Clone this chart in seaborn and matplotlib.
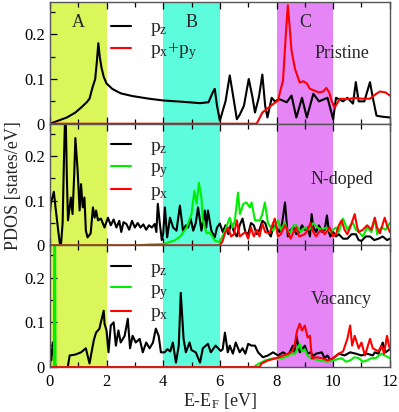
import matplotlib
matplotlib.use("Agg")
import matplotlib.pyplot as plt
from matplotlib.ticker import MultipleLocator
import seaborn as sns
import pandas as pd

# ---- data (E-E_F in eV, PDOS in states/eV) ----
pristine_pz = [(0, 0), (0.3, 0.007), (0.6, 0.014), (0.9, 0.025), (1.1, 0.036), (1.3, 0.048),
               (1.4, 0.056), (1.5, 0.08), (1.6, 0.1), (1.66, 0.14), (1.71, 0.18), (1.76, 0.15),
               (1.82, 0.126), (1.9, 0.105), (2.0, 0.09), (2.2, 0.078), (2.5, 0.068), (2.9, 0.062),
               (3.5, 0.056), (4.0, 0.052), (4.7, 0.049), (5.3, 0.046), (5.6, 0.048), (5.75, 0.07),
               (5.82, 0.078), (5.9, 0.04), (6.0, 0.007), (6.2, 0.05), (6.35, 0.108), (6.5, 0.05),
               (6.6, 0.01), (6.7, 0.02), (6.85, 0.04), (7.02, 0.1), (7.15, 0.06), (7.24, 0.025),
               (7.38, 0.06), (7.5, 0.11), (7.6, 0.04), (7.68, 0.014), (7.83, 0.058), (7.94, 0.05),
               (8.1, 0.055), (8.36, 0.048), (8.53, 0.063), (8.7, 0.014), (8.9, 0.058), (9.07, 0.014),
               (9.3, 0.067), (9.5, 0.05), (9.8, 0.058), (10.0, 0.01), (10.1, 0.058), (10.35, 0.05),
               (10.5, 0.058), (10.7, 0.045), (10.8, 0.093), (10.9, 0.05), (11.1, 0.05), (11.3, 0.093),
               (11.4, 0.058), (11.53, 0.018), (11.7, 0.016), (12.0, 0.014)]
pristine_pxpy = [(0, 0), (7.3, 0), (7.5, 0.025), (7.8, 0.04), (8.05, 0.052), (8.23, 0.097),
                 (8.33, 0.2), (8.4, 0.265), (8.46, 0.22), (8.53, 0.164), (8.65, 0.123), (8.82, 0.092),
                 (8.95, 0.095), (9.07, 0.09), (9.18, 0.078), (9.5, 0.07), (9.65, 0.072), (9.76, 0.08),
                 (9.86, 0.07), (9.94, 0.052), (10.05, 0.036), (10.24, 0.056), (10.5, 0.055),
                 (10.8, 0.058), (11.0, 0.056), (11.3, 0.056), (11.5, 0.066), (11.65, 0.072),
                 (11.85, 0.07), (12.0, 0.063)]

ndoped_pz = [(0, 0.07), (0.03, 0.093), (0.14, 0.12), (0.2, 0.085), (0.3, 0.03), (0.35, 0.005),
             (0.39, 0), (0.45, 0.05), (0.5, 0.2), (0.55, 0.32), (0.6, 0.15), (0.64, 0.056),
             (0.74, 0.107), (0.8, 0.07), (0.86, 0.16), (0.9, 0.24), (0.98, 0.167), (1.05, 0.078),
             (1.1, 0.137), (1.16, 0.085), (1.22, 0.107), (1.27, 0.033), (1.33, 0.018), (1.44, 0.027),
             (1.52, 0.085), (1.58, 0.062), (1.63, 0.078), (1.7, 0.056), (1.8, 0.06), (1.93, 0.04),
             (2.05, 0.062), (2.15, 0.045), (2.25, 0.058), (2.35, 0.04), (2.45, 0.055), (2.52, 0.03),
             (2.6, 0.052), (2.7, 0.048), (2.8, 0.035), (2.9, 0.055), (3.0, 0.04), (3.1, 0.05),
             (3.2, 0.04), (3.3, 0.047), (3.4, 0.035), (3.5, 0.045), (3.6, 0.04), (3.7, 0.048),
             (3.76, 0.03), (3.81, 0.093), (3.88, 0.05), (3.95, 0.012), (4.0, 0.027), (4.06, 0.085),
             (4.14, 0.018), (4.24, 0.062), (4.35, 0.04), (4.47, 0.033), (4.59, 0.089), (4.7, 0.033),
             (4.8, 0.045), (4.88, 0.04), (4.97, 0.06), (5.06, 0.033), (5.15, 0.05), (5.23, 0.085),
             (5.35, 0.033), (5.47, 0.078), (5.52, 0.04), (5.58, 0.078), (5.7, 0.033), (5.82, 0.018),
             (5.9, 0.04), (6.0, 0.049), (6.1, 0.03), (6.2, 0.045), (6.3, 0.025), (6.4, 0.05),
             (6.5, 0.03), (6.6, 0.02), (6.7, 0.045), (6.8, 0.06), (6.9, 0.03), (7.0, 0.025),
             (7.1, 0.05), (7.2, 0.045), (7.3, 0.025), (7.4, 0.035), (7.5, 0.055), (7.6, 0.05),
             (7.7, 0.03), (7.8, 0.02), (7.9, 0.045), (8.0, 0.04), (8.1, 0.03), (8.2, 0.05),
             (8.3, 0.096), (8.4, 0.02), (8.5, 0.035), (8.6, 0.04), (8.7, 0.025), (8.8, 0.03),
             (8.9, 0.045), (9.0, 0.035), (9.1, 0.04), (9.18, 0.02), (9.24, 0.07), (9.3, 0.04),
             (9.4, 0.03), (9.5, 0.045), (9.6, 0.03), (9.7, 0.035), (9.78, 0.067), (9.85, 0.03),
             (9.9, 0.02), (10.0, 0.03), (10.1, 0.02), (10.2, 0.025), (10.35, 0.015), (10.5, 0.015),
             (10.65, 0.025), (10.8, 0.025), (10.9, 0.012), (11.0, 0.01), (11.15, 0.02), (11.3, 0.02),
             (11.45, 0.012), (11.6, 0.015), (11.75, 0.02), (11.9, 0.012), (12.0, 0.015)]
ndoped_py = [(0, 0), (3.0, 0), (3.5, 0.002), (4.0, 0.003), (4.4, 0.011), (4.6, 0.02), (4.83, 0.04),
             (5.0, 0.07), (5.1, 0.122), (5.18, 0.093), (5.26, 0.14), (5.35, 0.107), (5.4, 0.056),
             (5.53, 0.027), (5.65, 0.029), (5.82, 0.011), (6.0, 0.007), (6.18, 0.033), (6.35, 0.062),
             (6.45, 0.04), (6.53, 0.056), (6.64, 0.118), (6.71, 0.07), (6.83, 0.093), (6.94, 0.096),
             (7.06, 0.085), (7.12, 0.096), (7.24, 0.056), (7.41, 0.056), (7.5, 0.07), (7.59, 0.096),
             (7.7, 0.049), (7.88, 0.033), (8.05, 0.056), (8.15, 0.035), (8.3, 0.05), (8.4, 0.03),
             (8.5, 0.03), (8.6, 0.045), (8.7, 0.045), (8.85, 0.03), (9.0, 0.04), (9.15, 0.035),
             (9.3, 0.05), (9.45, 0.04), (9.6, 0.035), (9.75, 0.04), (9.9, 0.03), (10.1, 0.04),
             (10.2, 0.03), (10.35, 0.06), (10.5, 0.035), (10.6, 0.045), (10.7, 0.05), (10.8, 0.035),
             (10.9, 0.03), (11.05, 0.02), (11.2, 0.04), (11.35, 0.03), (11.47, 0.06), (11.55, 0.025),
             (11.7, 0.04), (11.85, 0.035), (12.0, 0.05)]
ndoped_px = [(0, 0), (6.0, 0), (6.1, 0.01), (6.18, 0.027), (6.29, 0.04), (6.4, 0.02), (6.5, 0.025),
             (6.6, 0.056), (6.7, 0.02), (6.8, 0.025), (6.9, 0.03), (7.0, 0.015), (7.1, 0.04),
             (7.2, 0.02), (7.3, 0.035), (7.4, 0.02), (7.5, 0.049), (7.6, 0.03), (7.76, 0.027),
             (7.85, 0.045), (7.94, 0.06), (8.05, 0.02), (8.15, 0.025), (8.3, 0.045), (8.4, 0.03),
             (8.5, 0.015), (8.6, 0.03), (8.7, 0.04), (8.8, 0.02), (9.0, 0.025), (9.1, 0.035),
             (9.2, 0.05), (9.3, 0.03), (9.4, 0.02), (9.5, 0.03), (9.6, 0.035), (9.7, 0.025),
             (9.88, 0.04), (10.0, 0.02), (10.1, 0.025), (10.2, 0.045), (10.3, 0.056), (10.4, 0.035),
             (10.5, 0.025), (10.6, 0.04), (10.76, 0.07), (10.85, 0.04), (10.9, 0.03), (11.05, 0.035),
             (11.2, 0.045), (11.35, 0.035), (11.47, 0.062), (11.55, 0.04), (11.65, 0.027),
             (11.82, 0.062), (11.9, 0.045), (12.0, 0.03)]

vacancy_pz = [(0, 0.026), (0.05, 0.015), (0.1, 0.055), (0.17, 0.008), (0.22, 0), (0.63, 0),
              (0.7, 0.026), (0.9, 0.028), (1.1, 0.033), (1.27, 0.042), (1.4, 0.008), (1.45, 0.026),
              (1.55, 0.06), (1.63, 0.077), (1.75, 0.086), (1.8, 0.1), (1.9, 0.126), (1.93, 0.097),
              (2.0, 0.082), (2.07, 0.033), (2.15, 0.093), (2.25, 0.1), (2.33, 0.048), (2.42, 0.082),
              (2.5, 0.055), (2.64, 0.07), (2.75, 0.108), (2.83, 0.042), (2.92, 0.07), (3.03, 0.055),
              (3.17, 0.063), (3.28, 0.033), (3.4, 0.055), (3.52, 0.042), (3.64, 0.055), (3.74, 0.086),
              (3.84, 0.07), (3.92, 0.033), (4.05, 0.033), (4.15, 0.04), (4.25, 0.035), (4.34, 0.055),
              (4.45, 0.01), (4.55, 0.048), (4.62, 0.166), (4.72, 0.063), (4.8, 0.033), (4.93, 0.055),
              (5.0, 0.038), (5.15, 0.033), (5.3, 0.01), (5.4, 0.042), (5.58, 0.052), (5.68, 0.033),
              (5.85, 0.048), (6.03, 0.036), (6.1, 0.04), (6.18, 0.077), (6.28, 0.033), (6.35, 0.048),
              (6.46, 0.03), (6.56, 0.055), (6.7, 0.033), (6.8, 0.042), (6.9, 0.03), (7.0, 0.052),
              (7.12, 0.048), (7.24, 0.048), (7.35, 0.033), (7.52, 0.022), (7.7, 0.026), (7.88, 0.033),
              (8.05, 0.026), (8.23, 0.033), (8.41, 0.026), (8.58, 0.048), (8.64, 0.033), (8.7, 0.07),
              (8.82, 0.033), (9.0, 0.048), (9.1, 0.03), (9.2, 0.033), (9.3, 0.025), (9.4, 0.03),
              (9.6, 0.033), (9.7, 0.02), (9.8, 0.026), (9.9, 0.015), (10.0, 0.02), (10.2, 0.03),
              (10.4, 0.026), (10.6, 0.033), (10.8, 0.03), (11.0, 0.026), (11.2, 0.03), (11.4, 0.026),
              (11.47, 0.033), (11.6, 0.03), (11.75, 0.055), (11.85, 0.033), (12.0, 0.04)]
vacancy_py = [(0, 0), (0.14, 0), (0.17, 0.6), (0.2, 0), (7.2, 0), (7.3, 0.005), (7.6, 0.015),
              (7.9, 0.02), (8.2, 0.02), (8.4, 0.025), (8.5, 0.03), (8.65, 0.03), (8.82, 0.052),
              (8.9, 0.035), (9.0, 0.04), (9.1, 0.025), (9.2, 0.02), (9.5, 0.015), (9.8, 0.012),
              (10.0, 0.015), (10.3, 0.02), (10.45, 0.012), (10.6, 0.015), (10.75, 0.022), (10.9, 0.02),
              (11.05, 0.012), (11.2, 0.015), (11.35, 0.02), (11.5, 0.02), (11.7, 0.03), (11.85, 0.025),
              (12.0, 0.02)]
vacancy_px = [(0, 0), (7.4, 0), (7.47, 0.008), (7.7, 0.015), (8.0, 0.02), (8.2, 0.025), (8.4, 0.03),
              (8.55, 0.035), (8.64, 0.048), (8.72, 0.08), (8.82, 0.097), (8.9, 0.082), (9.0, 0.093),
              (9.1, 0.066), (9.18, 0.07), (9.25, 0.019), (9.4, 0.022), (9.6, 0.02), (9.8, 0.015),
              (10.0, 0.02), (10.2, 0.03), (10.35, 0.035), (10.5, 0.063), (10.6, 0.093), (10.67, 0.048),
              (10.76, 0.07), (10.9, 0.042), (11.0, 0.055), (11.12, 0.026), (11.3, 0.063), (11.4, 0.042),
              (11.6, 0.035), (11.7, 0.048), (11.8, 0.03), (11.9, 0.07), (12.0, 0.04)]

regions = [(0, 2, "#dbf65a", "A"), (4, 6, "#5cfcdd", "B"), (8, 10, "#e585f6", "C")]
panel_names = ["Pristine", "N-doped", "Vacancy"]

panels = [
    [("p$_\\mathregular{z}$", pristine_pz, "black"),
     ("p$_\\mathregular{x}$+p$_\\mathregular{y}$", pristine_pxpy, "red")],
    [("p$_\\mathregular{z}$", ndoped_pz, "black"),
     ("p$_\\mathregular{y}$", ndoped_py, "#00ee00"),
     ("p$_\\mathregular{x}$", ndoped_px, "red")],
    [("p$_\\mathregular{z}$", vacancy_pz, "black"),
     ("p$_\\mathregular{y}$", vacancy_py, "#00ee00"),
     ("p$_\\mathregular{x}$", vacancy_px, "red")],
]

sns.set_theme(style="ticks")
plt.rcParams['font.family'] = ['Liberation Serif', 'DejaVu Serif']
plt.rcParams['mathtext.default'] = 'regular'

fig, axes = plt.subplots(3, 1, figsize=(3.99, 4.12), dpi=100, sharex=True)
fig.subplots_adjust(left=0.125, right=0.977, top=0.995, bottom=0.109, hspace=0)

for i, ax in enumerate(axes):
    for lo, hi, col, lab in regions:
        ax.axvspan(lo, hi, color=col, lw=0, zorder=0)
    rows = []
    for name, pts, col in panels[i]:
        for e, v in pts:
            rows.append({"E": e, "PDOS": v, "orb": name})
    df = pd.DataFrame(rows)
    pal = {name: col for name, pts, col in panels[i]}
    sns.lineplot(data=df, x="E", y="PDOS", hue="orb", palette=pal, ax=ax,
                 estimator=None, sort=False, linewidth=1.5, zorder=3)
    ax.legend(loc="upper left", bbox_to_anchor=(0.14, 0.975 if i == 0 else 1.0), frameon=False,
              fontsize=14, handlelength=1.0, handletextpad=1.0, labelspacing=0.1,
              borderaxespad=0.3)
    ax.set_xlim(0, 12)
    ax.set_ylim(0, 0.272)
    ax.set_xlabel("")
    ax.set_ylabel("")
    ax.xaxis.set_major_locator(MultipleLocator(2))
    ax.xaxis.set_minor_locator(MultipleLocator(1))
    ax.yaxis.set_major_locator(MultipleLocator(0.1))
    ax.yaxis.set_minor_locator(MultipleLocator(0.05))
    ax.set_yticks([0, 0.1, 0.2])
    ax.set_yticklabels(["0", "0.1", "0.2"])
    ax.tick_params(which="both", direction="in", top=True, bottom=True, left=True,
                   right=False, labelsize=12, colors="black")
    ax.tick_params(which="major", length=5, width=0.9)
    ax.tick_params(which="minor", length=3.5, width=0.9)
    ax.tick_params(axis="x", pad=5)
    for sp in ax.spines.values():
        sp.set_color("#555555")
        sp.set_linewidth(1.0)
        sp.set_zorder(5)
    ax.text(10.3, [0.157, 0.147, 0.151][i], panel_names[i], ha="center", va="center",
            fontsize=13)

for lo, hi, col, lab in regions:
    axes[0].text((lo + hi) / 2, 0.227, lab, ha="center", va="center", fontsize=13)

axes[2].set_xticks([0, 2, 4, 6, 8, 10, 12])
axes[2].set_xlabel("E-E$_\\mathregular{F}$ [eV]", fontsize=13, labelpad=1)
fig.text(0.035, 0.55, "PDOS [states/eV]", rotation=90, ha="center", va="center", fontsize=13)

fig.savefig("out.png", dpi=100)
